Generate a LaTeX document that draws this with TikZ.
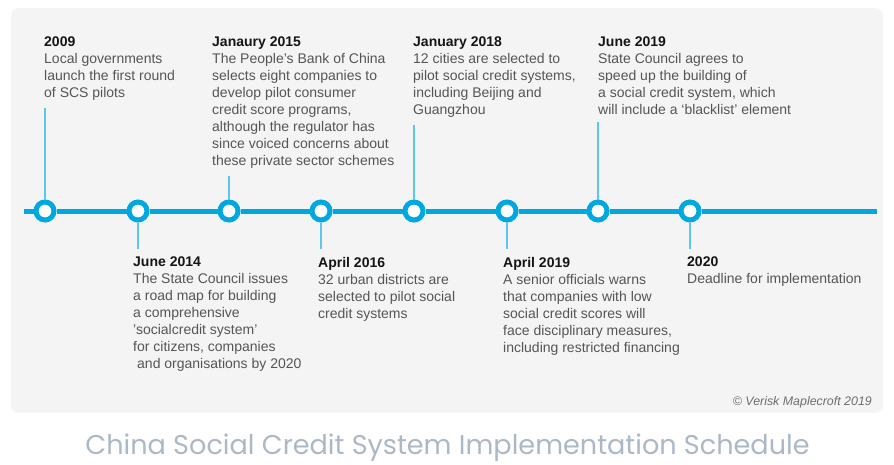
\documentclass[tikz,border=0pt]{standalone}
\usepackage{fontspec}
\setmainfont{Liberation Sans}
\newfontfamily\capfont{Poppins}
\definecolor{panelbg}{HTML}{F4F4F4}
\definecolor{tlcyan}{HTML}{00A8E0}
\definecolor{conncyan}{HTML}{5CC6EE}
\definecolor{bodygray}{HTML}{555555}
\definecolor{titleblk}{HTML}{151515}
\definecolor{capgray}{HTML}{ABB9C7}
\definecolor{copygray}{HTML}{6E6E6E}
\tikzset{
  evtext/.style={anchor=north west, inner sep=0pt, align=left, text=bodygray,
    font=\fontsize{14}{17}\selectfont},
  milestone/.style={circle, draw=tlcyan, line width=5pt, fill=white,
    minimum size=18pt, inner sep=0pt},
  tline/.style={draw=tlcyan, line width=5pt},
  conn/.style={draw=conncyan, line width=1.3pt}
}
\newcommand{\evtitle}[1]{{\bfseries\color{titleblk}#1}}
\begin{document}
\begin{tikzpicture}[x=1pt,y=-1pt]
\useasboundingbox (0,0) rectangle (894,464);
\fill[panelbg, rounded corners=8pt] (11,8) rectangle (883,413);

% milestones
\node[milestone] (c1) at (45,211) {};
\node[milestone] (c2) at (138,211) {};
\node[milestone] (c3) at (229,211) {};
\node[milestone] (c4) at (321,211) {};
\node[milestone] (c5) at (414,211) {};
\node[milestone] (c6) at (507,211) {};
\node[milestone] (c7) at (598,211) {};
\node[milestone] (c8) at (690,211) {};
\coordinate (ts) at (24,211);
\coordinate (te) at (877,211);
\draw[tline] (ts) -- (c1) -- (c2) -- (c3) -- (c4) -- (c5) -- (c6) -- (c7) -- (c8) -- (te);

% upper texts
\node[evtext] (t1) at (44,37) {\evtitle{2009}\\Local governments\\launch the first round\\of SCS pilots};
\node[evtext] (t3) at (212,37) {\evtitle{Janaury 2015}\\The People’s Bank of China\\selects eight companies to\\develop pilot consumer\\credit score programs,\\although the regulator has\\since voiced concerns about\\these private sector schemes};
\node[evtext] (t5) at (413,37) {\evtitle{January 2018}\\12 cities are selected to\\pilot social credit systems,\\including Beijing and\\Guangzhou};
\node[evtext] (t7) at (598,37) {\evtitle{June 2019}\\State Council agrees to\\speed up the building of\\a social credit system, which\\will include a ‘blacklist’ element};

% lower texts
\node[evtext] (t2) at (133,257) {\evtitle{June 2014}\\The State Council issues\\a road map for building\\a comprehensive\\'socialcredit system’\\for citizens, companies\\\hspace{4pt}and organisations by 2020};
\node[evtext] (t4) at (318,257) {\evtitle{April 2016}\\32 urban districts are\\selected to pilot social\\credit systems};
\node[evtext] (t6) at (503,257) {\evtitle{April 2019}\\A senior officials warns\\that companies with low\\social credit scores will\\face disciplinary measures,\\including restricted financing};
\node[evtext] (t8) at (687,257) {\evtitle{2020}\\Deadline for implementation};

% connectors
\draw[conn, shorten >=7pt] (c1.north) -- (c1.north |- t1.south);
\draw[conn, shorten >=7pt] (c3.north) -- (c3.north |- t3.south);
\draw[conn, shorten >=7pt] (c5.north) -- (c5.north |- t5.south);
\draw[conn, shorten >=7pt] (c7.north) -- (c7.north |- t7.south);
\draw[conn, shorten >=8pt] (c2.south) -- (c2.south |- t2.north);
\draw[conn, shorten >=8pt] (c4.south) -- (c4.south |- t4.north);
\draw[conn, shorten >=8pt] (c6.south) -- (c6.south |- t6.north);
\draw[conn, shorten >=8pt] (c8.south) -- (c8.south |- t8.north);

% credits and caption
\node[anchor=base east, inner sep=0pt, text=copygray, font=\fontsize{12.4}{14}\selectfont\itshape] (copy) at (872,405) {© Verisk Maplecroft 2019};
\node[anchor=base, inner sep=0pt, text=capgray, font=\capfont\fontsize{27.1}{32}\selectfont] (cap) at (447.5,454) {China Social Credit System Implementation Schedule};
\end{tikzpicture}
\end{document}
